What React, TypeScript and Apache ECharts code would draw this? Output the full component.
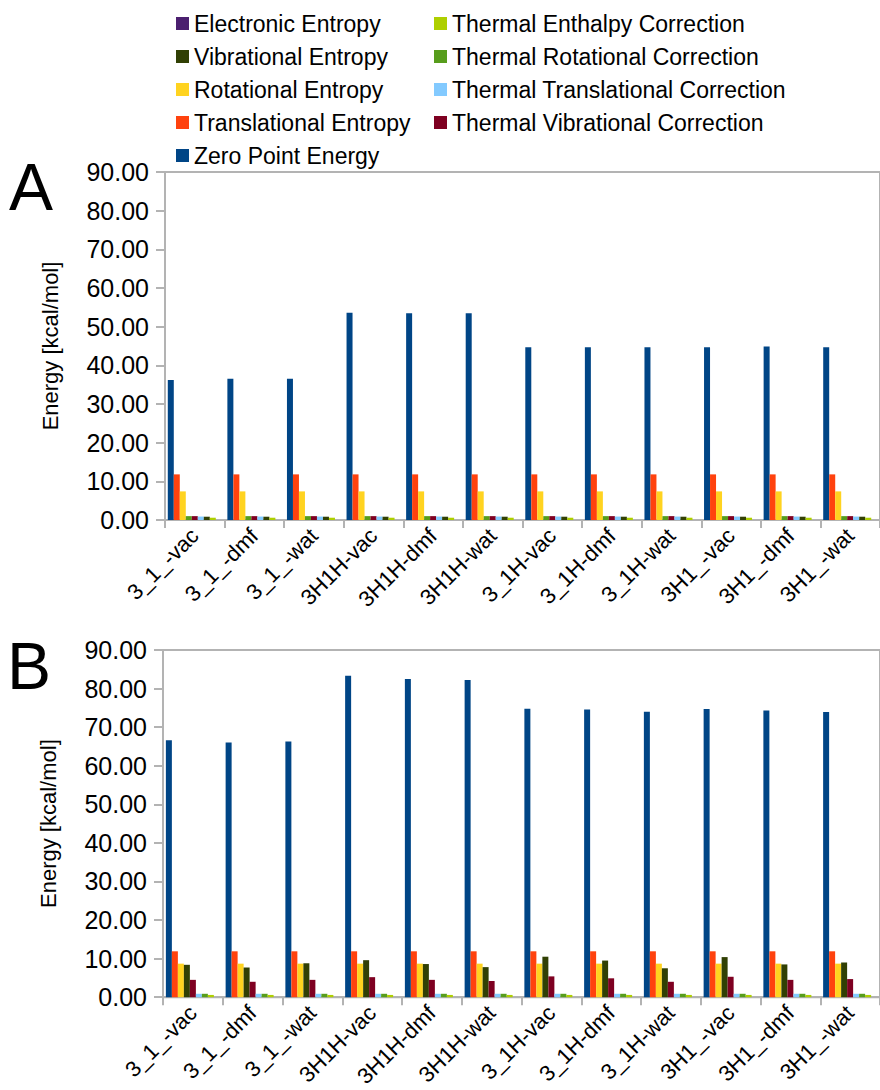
import React, { useEffect, useRef } from "react";
import * as echarts from "echarts";

const categories = [
  "3_1_-vac", "3_1_-dmf", "3_1_-wat",
  "3H1H-vac", "3H1H-dmf", "3H1H-wat",
  "3_1H-vac", "3_1H-dmf", "3_1H-wat",
  "3H1_-vac", "3H1_-dmf", "3H1_-wat",
];

const yTicks = [0, 10, 20, 30, 40, 50, 60, 70, 80, 90];

// Panel A values (kcal/mol)
const zpeA = [36.2, 36.5, 36.5, 53.6, 53.5, 53.5, 44.7, 44.7, 44.7, 44.7, 44.9, 44.7];
const transEntA = [11.8, 11.8, 11.8, 11.8, 11.8, 11.8, 11.8, 11.8, 11.8, 11.8, 11.8, 11.8];
const rotEntA = [7.4, 7.4, 7.4, 7.4, 7.4, 7.4, 7.4, 7.4, 7.4, 7.4, 7.4, 7.4];
const thermRotA = [1.0, 1.0, 1.0, 1.0, 1.0, 1.0, 1.0, 1.0, 1.0, 1.0, 1.0, 1.0];
const thermVibA = [1.0, 1.0, 1.0, 1.0, 1.0, 1.0, 1.0, 1.0, 1.0, 1.0, 1.0, 1.0];
const thermTransA = [0.89, 0.89, 0.89, 0.89, 0.89, 0.89, 0.89, 0.89, 0.89, 0.89, 0.89, 0.89];
const vibEntA = [0.85, 0.85, 0.85, 0.85, 0.85, 0.85, 0.85, 0.85, 0.85, 0.85, 0.85, 0.85];
const enthA = [0.59, 0.59, 0.59, 0.59, 0.59, 0.59, 0.59, 0.59, 0.59, 0.59, 0.59, 0.59];
const elecA = [0, 0, 0, 0, 0, 0, 0, 0, 0, 0, 0, 0];

// Panel B values (kcal/mol)
const zpeB = [66.6, 66.0, 66.3, 83.3, 82.5, 82.2, 74.8, 74.6, 74.0, 74.7, 74.3, 73.9];
const transEntB = [11.9, 11.9, 11.9, 11.9, 11.9, 11.9, 11.9, 11.9, 11.9, 11.9, 11.9, 11.9];
const rotEntB = [8.7, 8.7, 8.7, 8.7, 8.7, 8.7, 8.7, 8.7, 8.7, 8.7, 8.7, 8.7];
const vibEntB = [8.4, 7.7, 8.8, 9.6, 8.6, 7.8, 10.5, 9.5, 7.5, 10.4, 8.5, 9.0];
const thermVibB = [4.5, 4.0, 4.5, 5.2, 4.5, 4.2, 5.4, 4.9, 4.0, 5.3, 4.5, 4.7];
const thermTransB = [0.89, 0.89, 0.89, 0.89, 0.89, 0.89, 0.89, 0.89, 0.89, 0.89, 0.89, 0.89];
const thermRotB = [0.89, 0.89, 0.89, 0.89, 0.89, 0.89, 0.89, 0.89, 0.89, 0.89, 0.89, 0.89];
const enthB = [0.59, 0.59, 0.59, 0.59, 0.59, 0.59, 0.59, 0.59, 0.59, 0.59, 0.59, 0.59];
const elecB = [0, 0, 0, 0, 0, 0, 0, 0, 0, 0, 0, 0];

const legendLeft = [
  "Electronic Entropy",
  "Vibrational Entropy",
  "Rotational Entropy",
  "Translational Entropy",
  "Zero Point Energy",
];
const legendRight = [
  "Thermal Enthalpy Correction",
  "Thermal Rotational Correction",
  "Thermal Translational Correction",
  "Thermal Vibrational Correction",
];

const colors: Record<string, string> = {
  "Electronic Entropy": "#4b1f6f",
  "Vibrational Entropy": "#314004",
  "Rotational Entropy": "#ffd320",
  "Translational Entropy": "#ff420e",
  "Zero Point Energy": "#004586",
  "Thermal Enthalpy Correction": "#aecf00",
  "Thermal Rotational Correction": "#579d1c",
  "Thermal Translational Correction": "#83caff",
  "Thermal Vibrational Correction": "#7e0021",
};

const panelA: [string, number[]][] = [
  ["Zero Point Energy", zpeA],
  ["Translational Entropy", transEntA],
  ["Rotational Entropy", rotEntA],
  ["Thermal Rotational Correction", thermRotA],
  ["Thermal Vibrational Correction", thermVibA],
  ["Thermal Translational Correction", thermTransA],
  ["Vibrational Entropy", vibEntA],
  ["Thermal Enthalpy Correction", enthA],
  ["Electronic Entropy", elecA],
];

const panelB: [string, number[]][] = [
  ["Zero Point Energy", zpeB],
  ["Translational Entropy", transEntB],
  ["Rotational Entropy", rotEntB],
  ["Vibrational Entropy", vibEntB],
  ["Thermal Vibrational Correction", thermVibB],
  ["Thermal Translational Correction", thermTransB],
  ["Thermal Rotational Correction", thermRotB],
  ["Thermal Enthalpy Correction", enthB],
  ["Electronic Entropy", elecB],
];

const FONT = "Liberation Sans";
const AXIS_GREY = "#b3b3b3";

export default function App() {
  const ref = useRef<HTMLDivElement>(null);

  useEffect(() => {
    if (!ref.current) return;
    const chart = echarts.init(ref.current, undefined, { renderer: "svg" });

    const makeX = (gridIndex: number) => ({
      type: "category",
      gridIndex,
      data: categories,
      boundaryGap: true,
      axisLine: { show: true, lineStyle: { color: AXIS_GREY, width: 2 } },
      axisTick: { show: true, interval: 0, length: 8, lineStyle: { color: AXIS_GREY, width: 2 } },
      axisLabel: {
        interval: 0,
        rotate: 45,
        margin: 12,
        fontSize: 22,
        fontFamily: FONT,
        color: "#000",
      },
      splitLine: { show: false },
    });

    const makeY = (gridIndex: number) => ({
      type: "value",
      gridIndex,
      min: yTicks[0],
      max: yTicks[yTicks.length - 1],
      interval: 10,
      name: "Energy [kcal/mol]",
      nameLocation: "middle",
      nameGap: 104,
      nameTextStyle: { fontSize: 22, fontFamily: FONT, color: "#000" },
      axisLine: { show: true, lineStyle: { color: AXIS_GREY, width: 2 } },
      axisTick: { show: true, length: 9, lineStyle: { color: AXIS_GREY, width: 2 } },
      axisLabel: {
        margin: 16,
        fontSize: 25,
        fontFamily: FONT,
        color: "#000",
        formatter: (v: number) => v.toFixed(2),
      },
      splitLine: { show: false },
    });

    const makeSeries = (list: [string, number[]][], idx: number) =>
      list.map(([name, data]) => ({
        type: "bar",
        name,
        xAxisIndex: idx,
        yAxisIndex: idx,
        data,
        barWidth: 6,
        barGap: "0%",
        itemStyle: { color: colors[name] },
        emphasis: { disabled: true },
      }));

    const legendBase = {
      orient: "vertical",
      top: 12,
      padding: 0,
      itemWidth: 13,
      itemHeight: 13,
      itemGap: 10,
      icon: "rect",
      selectedMode: false,
      textStyle: { fontSize: 23, fontFamily: FONT, color: "#000", lineHeight: 22 },
    };

    chart.setOption({
      animation: false,
      backgroundColor: "#fff",
      textStyle: { fontFamily: FONT },
      legend: [
        { ...legendBase, left: 176, data: legendLeft },
        { ...legendBase, left: 434, data: legendRight },
      ],
      grid: [
        { left: 165, top: 172, width: 720, height: 348, show: true, borderColor: AXIS_GREY, borderWidth: 2, containLabel: false },
        { left: 163, top: 650, width: 720, height: 349, show: true, borderColor: AXIS_GREY, borderWidth: 2, containLabel: false },
      ],
      xAxis: [makeX(0), makeX(1)],
      yAxis: [makeY(0), makeY(1)],
      graphic: [
        { type: "text", left: 9, top: 154, style: { text: "A", fontSize: 66, fontFamily: FONT, fill: "#000" } },
        { type: "text", left: 7, top: 633, style: { text: "B", fontSize: 66, fontFamily: FONT, fill: "#000" } },
      ],
      series: [...makeSeries(panelA, 0), ...makeSeries(panelB, 1)],
    });

    return () => chart.dispose();
  }, []);

  return (
    <div
      ref={ref}
      style={{ position: "absolute", left: 0, top: 0, width: 880, height: 1090 }}
    />
  );
}
